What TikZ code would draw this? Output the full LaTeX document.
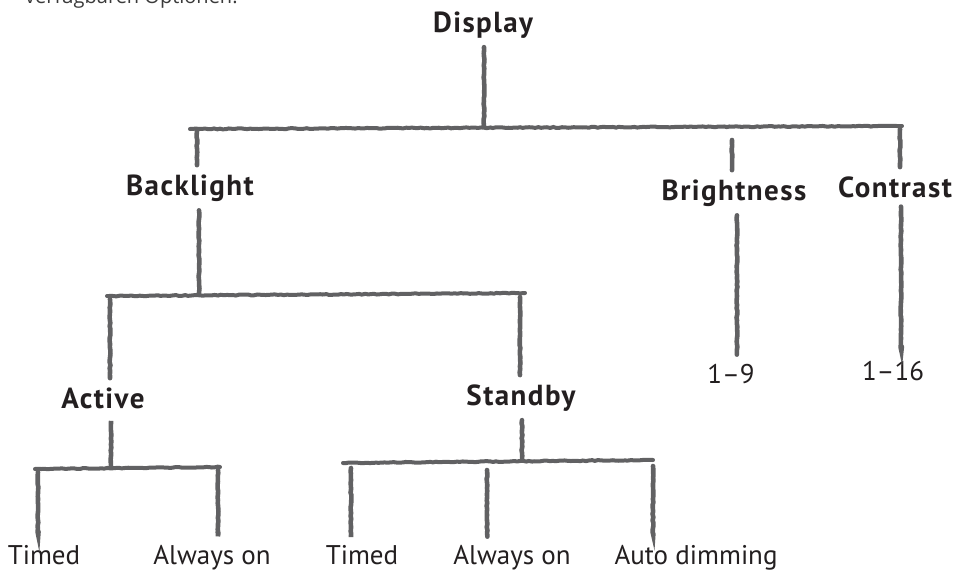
\documentclass[tikz,border=0pt]{standalone}
\usepackage{fontspec}
\setmainfont{PT Sans}
\newfontfamily\headfont[LetterSpace=5]{PT Sans Bold}
\newfontfamily\introfont{Open Sans}
\usetikzlibrary{decorations.pathmorphing}
\definecolor{strokegray}{HTML}{616163}
\definecolor{txt}{HTML}{231F20}
\definecolor{introgray}{HTML}{3A3A3A}
\begin{document}
\pgfmathsetseed{7}
\begin{tikzpicture}[x=1pt,y=-1pt,
  stroke/.style={draw=strokegray,line width=4.6pt,line cap=round,
    decorate,decoration={random steps,segment length=3pt,amplitude=0.45pt}},
  hstroke/.style={stroke,line width=4pt},
  head/.style={font=\headfont\fontsize{29}{31}\selectfont,text=txt,inner sep=9pt,anchor=base},
  leaf/.style={font=\fontsize{27}{29}\selectfont,text=txt,inner sep=6pt,anchor=base}]
\useasboundingbox (0,0) rectangle (964,571);
\fill[white] (0,0) rectangle (964,571);

% partially visible intro text (cut at top)
\node[font=\introfont\fontsize{20}{22}\selectfont,text=introgray,anchor=base west,inner sep=0pt] (intro) at (25,3) {verfügbaren Optionen.};

% labels
\node[head] (display) at (483,32) {Display};
\node[head] (backlight) at (190,195) {Backlight};
\node[head] (brightness) at (734,200) {Brightness};
\node[head] (contrast) at (895,197) {Contrast};
\node[head] (active) at (103,408) {Active};
\node[head] (standby) at (521,405) {Standby};
\node[leaf] (r19) at (731,383) {1–9};
\node[leaf] (r116) at (893,380) {1–16};
\node[leaf] (t1) at (44,564) {Timed};
\node[leaf] (a1) at (212,564) {Always on};
\node[leaf] (t2) at (362,564) {Timed};
\node[leaf] (a2) at (512,564) {Always on};
\node[leaf] (ad) at (696,564) {Auto dimming};

% junctions
\coordinate (j0) at (484,126);
\coordinate (hL) at (190,129);
\coordinate (hR) at (902,126);
\coordinate (dB) at (197,131);
\coordinate (dBr) at (732,140);
\coordinate (dC) at (900,129);
\coordinate (jB) at (199,293);
\coordinate (mL) at (107,296);
\coordinate (mR) at (525,293);
\coordinate (dA) at (110,299);
\coordinate (dS) at (520,297);
\coordinate (xBr) at (737,0);
\coordinate (xC) at (901,0);
\coordinate (jA) at (111,467);
\coordinate (aL) at (35,469);
\coordinate (aR) at (220,467);
\coordinate (d1) at (38,472);
\coordinate (d2) at (218,470);
\coordinate (jS) at (522,460);
\coordinate (sL) at (343,463);
\coordinate (sR) at (653,460);
\coordinate (d3) at (351,468);
\coordinate (d4) at (487,470);
\coordinate (d5) at (653,466);

% level 1
\draw[stroke] (display.south -| j0) -- (j0);
\draw[hstroke] (hL) -- (hR);
\draw[stroke] (dB) -- (dB |- backlight.north);
\draw[stroke] (dBr) -- (dBr |- brightness.north);
\draw[stroke] (dC) -- (dC |- contrast.north);

% backlight subtree
\draw[stroke] (jB |- backlight.south) -- (jB);
\draw[hstroke] (mL) -- (mR);
\draw[stroke] (dA) -- (dA |- active.north);
\draw[stroke] (dS) -- (dS |- standby.north);

% brightness / contrast values
\draw[stroke,shorten >=3pt] (xBr |- brightness.south) -- (xBr |- r19.north);
\draw[stroke,shorten >=8pt] (xC |- contrast.south) -- (xC |- r116.north);

% active subtree
\draw[stroke,shorten <=6pt] (active.south -| jA) -- (jA);
\draw[hstroke] (aL) -- (aR);
\draw[stroke,shorten >=7pt] (d1) -- (d1 |- t1.north);
\draw[stroke,shorten >=7pt] (d2) -- (d2 |- a1.north);

% standby subtree
\draw[stroke] (standby.south -| jS) -- (jS);
\draw[hstroke] (sL) -- (sR);
\draw[stroke,shorten >=4pt] (d3) -- (d3 |- t2.north);
\draw[stroke,shorten >=2pt] (d4) -- (d4 |- a2.north);
\draw[stroke,shorten >=5pt] (d5) -- (d5 |- ad.north);
\end{tikzpicture}
\end{document}
